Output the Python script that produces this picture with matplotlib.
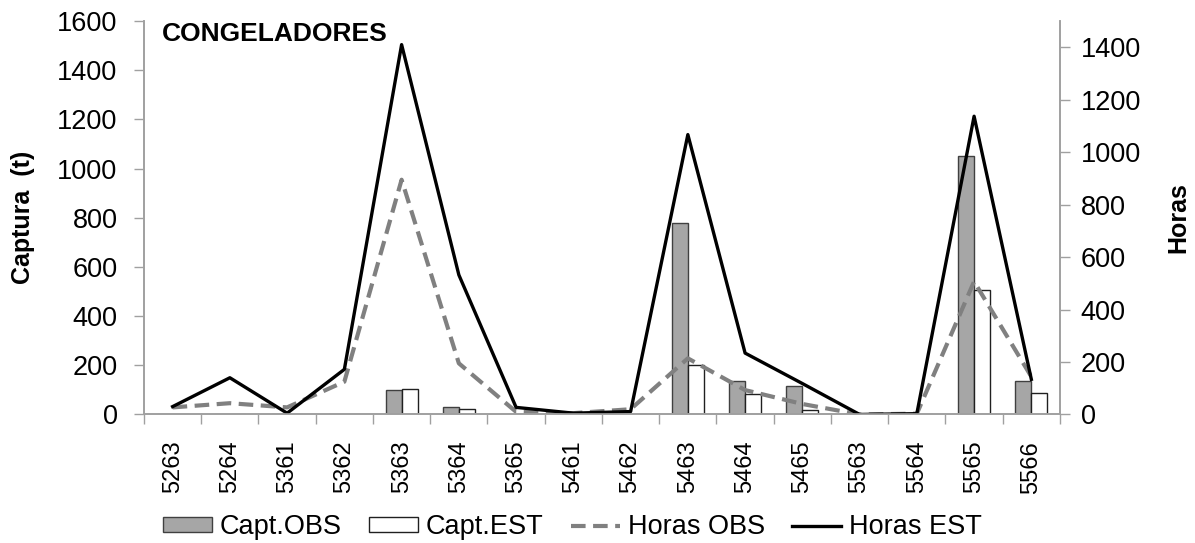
import matplotlib
matplotlib.use("Agg")
import matplotlib.pyplot as plt
import numpy as np
from matplotlib.ticker import MultipleLocator, FixedLocator

plt.rcParams['font.family'] = ['Liberation Sans', 'DejaVu Sans']

categories = ["5263", "5264", "5361", "5362", "5363", "5364", "5365", "5461",
              "5462", "5463", "5464", "5465", "5563", "5564", "5565", "5566"]
capt_obs = [0, 0, 0, 2, 100, 31, 1, 0, 3, 777, 135, 115, 0, 0, 1051, 135]
capt_est = [0, 0, 0, 1, 103, 23, 1, 0, 2, 202, 84, 19, 0, 0, 507, 88]
horas_obs = [27, 43, 27, 125, 895, 195, 10, 5, 20, 214, 93, 40, 0, 3, 507, 144]
horas_est = [30, 140, 5, 172, 1410, 532, 27, 5, 11, 1067, 234, 118, 0, 3, 1137, 134]

fig = plt.figure(figsize=(11.95, 5.43), dpi=100)
ax = fig.add_axes([0.1205, 0.2367, 0.7665, 0.7246])
ax2 = ax.twinx()

x = np.arange(len(categories))
w = 0.28
b1 = ax.bar(x - w / 2, capt_obs, width=w, color="#A6A6A6", edgecolor="#404040",
            linewidth=1.0, label="Capt.OBS")
b2 = ax.bar(x + w / 2, capt_est, width=w, color="white", edgecolor="#202020",
            linewidth=1.0, label="Capt.EST")
l1, = ax2.plot(x, horas_obs, color="#808080", linewidth=3.0, linestyle=(0, (3.5, 1.8)),
               label="Horas OBS")
l2, = ax2.plot(x, horas_est, color="black", linewidth=2.4, label="Horas EST")

ax.set_xlim(-0.5, len(categories) - 0.5)
ax.set_ylim(0, 1600)
ax.yaxis.set_major_locator(MultipleLocator(200))
ax2.set_ylim(0, 1500)
ax2.yaxis.set_major_locator(FixedLocator(np.arange(0, 1401, 200)))

ax.set_xticks(x)
ax.set_xticklabels(categories, rotation=90, fontsize=17)
ax.xaxis.set_minor_locator(FixedLocator(np.arange(-0.5, len(categories), 1.0)))
ax.tick_params(axis="x", which="major", length=0, pad=19)
ax.tick_params(axis="x", which="minor", length=7, color="#A0A0A0", width=1)
ax.tick_params(axis="y", length=7, color="#A0A0A0", width=1, labelsize=19.5, pad=12)
ax2.tick_params(axis="y", length=7, color="#A0A0A0", width=1, labelsize=19.5, pad=8)

for a in (ax, ax2):
    a.spines["top"].set_visible(False)
    for s in ("left", "right", "bottom"):
        a.spines[s].set_color("#A0A0A0")
        a.spines[s].set_linewidth(1.2)

ax.set_ylabel("Captura  (t)", fontsize=18, fontweight="bold", labelpad=16)
ax2.set_ylabel("Horas", fontsize=18, fontweight="bold", labelpad=18)

ax.text(0.02, 0.997, "CONGELADORES", transform=ax.transAxes, fontsize=19,
        fontweight="bold", va="top", ha="left")

fig.legend(handles=[b1, b2, l1, l2], loc="lower center", bbox_to_anchor=(0.479, -0.04),
           ncol=4, frameon=False, fontsize=19.5, handlelength=1.8, handletextpad=0.3,
           columnspacing=1.0, handleheight=0.5)

fig.savefig("out.png", dpi=100)
